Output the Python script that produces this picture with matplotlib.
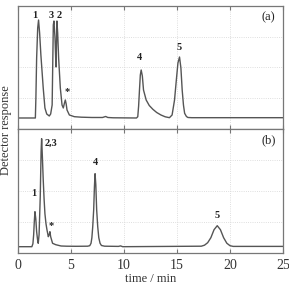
import numpy as np
import matplotlib.pyplot as plt

plt.rcParams['font.family'] = ['Liberation Serif', 'DejaVu Serif']

# chromatogram (a): time / min, response (arbitrary units above baseline)
t_a = [0, 1.68, 1.73, 1.8, 1.9, 1.98, 2.08, 2.2, 2.32, 2.42, 2.58, 2.75, 2.99,
       3.12, 3.26, 3.37, 3.43, 3.53, 3.62, 3.67, 3.71, 3.78, 3.87, 4.03, 4.19,
       4.31, 4.42, 4.5, 4.58, 4.66, 4.88, 5.35, 6.0, 7.0, 8.0, 8.3, 8.5, 9.0,
       11.2, 11.32, 11.4, 11.48, 11.56, 11.64, 11.75, 11.86, 12.11, 12.4,
       12.74, 13.1, 13.5, 13.9, 14.3, 14.55, 14.78, 14.95, 15.1, 15.25, 15.38,
       15.5, 15.62, 15.73, 15.9, 16.04, 16.4, 25]
y_a = [0, 0, 20, 60, 90, 98, 85, 63, 45, 30, 10, 4, 2,
       4, 13, 93, 97, 80, 51, 75, 97, 85, 60, 30, 13,
       10, 15, 18, 14, 8, 3, 1.3, 0.8, 0.5, 0.5, 1.5, 0.5, 0.2,
       0, 1.3, 12, 28, 43, 48, 42, 28, 18, 12.5,
       8.7, 5.5, 3, 1.2, 0.3, 3, 18, 38, 55, 61, 50,
       28, 13, 4.7, 1.5, 0.5, 0.3, 0.3]

# chromatogram (b)
t_b = [0, 1.35, 1.45, 1.52, 1.58, 1.64, 1.72, 1.8, 1.89, 1.95, 2.03, 2.14,
       2.22, 2.27, 2.34, 2.42, 2.5, 2.58, 2.68, 2.77, 2.9, 2.98, 3.05, 3.12,
       3.3, 3.6, 4.1, 4.6, 5.5, 6.6, 6.8, 6.92, 7.0, 7.08, 7.17, 7.24, 7.3,
       7.37, 7.45, 7.55, 7.65, 7.77, 7.9, 8.2, 9.5, 9.7, 9.9, 17.3, 17.6,
       17.9, 18.2, 18.5, 18.8, 19.1, 19.4, 19.7, 20.0, 20.3, 25]
y_b = [0, 0, 3, 12, 25, 35, 28, 15, 6.7, 3.4, 12, 50,
       95, 108, 90, 67, 48, 33, 23, 17, 10, 12, 15, 10,
       3.4, 2, 0.7, 0.5, 0.4, 0.5, 1, 3.4, 9, 20, 37, 60, 73,
       62, 37, 20, 9, 3.4, 1.2, 0.5, 0.3, 0.8, 0, 0.5, 1.5,
       4, 9, 17, 21, 17, 9, 3.5, 1, 0.3, 0.3]

labels_a = ['1', '3', '2', '*', '4', '5']
lab_t_a = [1.6, 3.2, 3.88, 4.66, 11.48, 15.2]
lab_y_a = [103, 103, 103, 26, 60, 70]
labels_b = ['1', '2,3', '*', '4', '5']
lab_t_b = [1.51, 3.15, 3.15, 7.33, 18.8]
lab_y_b = [53, 103, 21, 84, 31]

fig = plt.figure(figsize=(2.89, 2.86), dpi=100)
ax_a = fig.add_axes([0.0606, 0.549, 0.919, 0.430])
ax_b = fig.add_axes([0.0606, 0.1154, 0.919, 0.4336])

line_col = '#555555'
for ax, t, y, labs, lt, ly, tag, ylim in [
        (ax_a, t_a, y_a, labels_a, lab_t_a, lab_y_a, '(a)', (-11, 112)),
        (ax_b, t_b, y_b, labels_b, lab_t_b, lab_y_b, '(b)', (-6.3, 117.7))]:
    ax.plot(t, y, color=line_col, lw=1.0)
    for s, x0, y0 in zip(labs, lt, ly):
        ax.text(x0, y0, s, ha='center', va='center', fontsize=7.5,
                fontweight='bold', color='#222222')
    ax.text(23.6, ylim[1] - 11, tag, ha='center', va='center', fontsize=9,
            color='#222222')
    ax.set_xlim(0, 25)
    ax.set_ylim(*ylim)
    ax.set_xticks([0, 5, 10, 15, 20, 25])
    span = ylim[1] - ylim[0]
    ax.set_yticks([ylim[0] + span * k / 4 for k in (1, 2, 3)])
    ax.grid(True, color='#d4d4d4', ls=':', lw=0.6)
    ax.tick_params(axis='y', length=0, labelleft=False)
    ax.tick_params(axis='x', direction='in', length=3, color='#777777',
                   top=True, labelsize=10, labelcolor='#333333', pad=4)
    for sp in ax.spines.values():
        sp.set_color('#777777')
        sp.set_linewidth(0.9)

ax_a.tick_params(axis='x', labelbottom=False)
ax_b.set_xlabel('time / min', fontsize=9, color='#333333', labelpad=1)
fig.text(0.022, 0.545, 'Detector response', rotation=90, ha='center',
         va='center', fontsize=9, color='#333333')

fig.savefig('out.png', dpi=100)
